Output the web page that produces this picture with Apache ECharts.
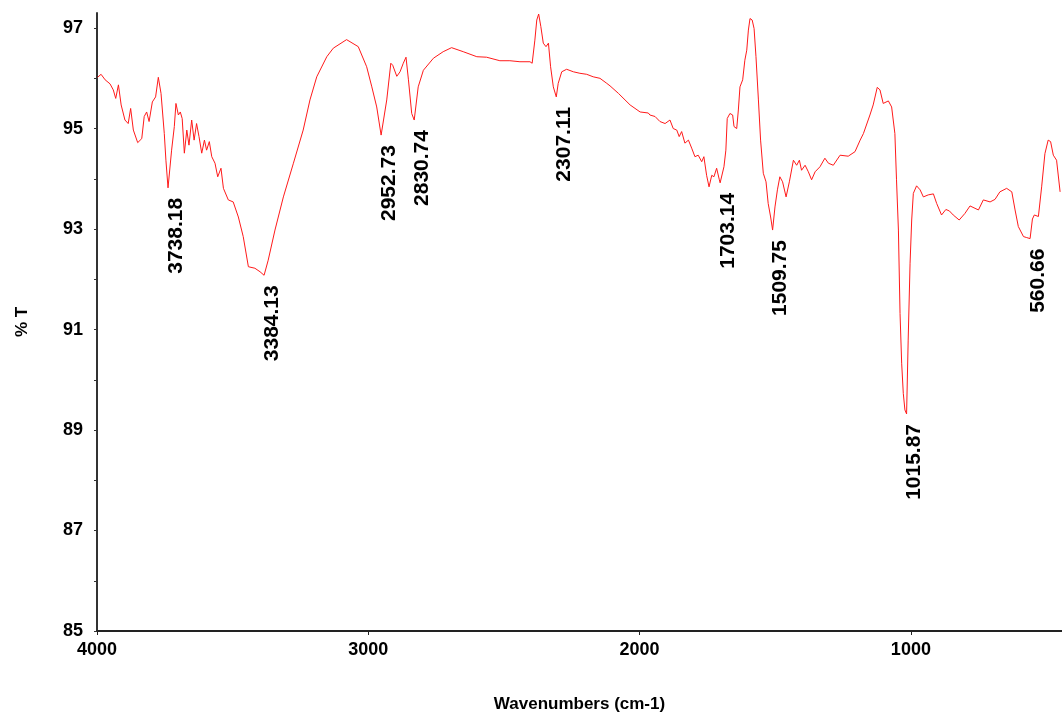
<!DOCTYPE html>
<html>
<head>
<meta charset="utf-8">
<script src="https://cdn.jsdelivr.net/npm/echarts@6/dist/echarts.min.js"></script>
<style>
  html, body { margin: 0; padding: 0; background: #fff; }
  #chart { width: 1062px; height: 715px; }
</style>
</head>
<body>
<div id="chart"></div>
<script>
// FTIR spectrum: wavenumber (cm-1) and transmittance (%T)
const wavenumbers = [
  3998, 3985, 3970, 3952, 3940, 3931, 3921, 3911, 3897, 3885, 3876, 3866, 3850, 3835, 3826, 3817,
  3808, 3796, 3784, 3774, 3764, 3752, 3746, 3738.18, 3725, 3715, 3709, 3700, 3693, 3686, 3678, 3669,
  3661, 3651, 3642, 3633, 3624, 3614, 3604, 3596, 3586, 3577, 3565, 3555, 3543, 3534, 3516, 3498,
  3479, 3461, 3442, 3418, 3399, 3384.13, 3369, 3344, 3313, 3276, 3240, 3215, 3190, 3153, 3129, 3080,
  3037, 3006, 2987, 2969, 2952.73, 2932, 2917, 2910, 2895, 2883, 2871, 2861, 2852, 2840, 2830.74, 2816,
  2797, 2760, 2724, 2693, 2650, 2600, 2564, 2515, 2478, 2441, 2404, 2396, 2386, 2379, 2372, 2364,
  2355, 2345, 2336, 2328, 2318, 2307.11, 2300, 2287, 2269, 2244, 2220, 2195, 2171, 2146, 2121, 2109,
  2078, 2035, 1998, 1968, 1962, 1943, 1925, 1906, 1888, 1876, 1863, 1854, 1845, 1833, 1820, 1808,
  1796, 1784, 1771, 1763, 1753, 1744, 1734, 1726, 1716, 1706, 1703.14, 1697, 1689, 1682, 1677, 1667,
  1657, 1652, 1642, 1636, 1630, 1620, 1612, 1605, 1599, 1593, 1585, 1578, 1571, 1562, 1554, 1544,
  1534, 1526, 1517, 1509.75, 1501, 1492, 1483, 1473, 1460, 1448, 1433, 1421, 1411, 1403, 1390, 1378,
  1366, 1353, 1335, 1317, 1304, 1286, 1261, 1231, 1206, 1187, 1175, 1151, 1139, 1124, 1114, 1102,
  1083, 1071, 1059, 1053, 1046, 1040, 1034, 1028, 1022, 1015.87, 1010, 1003, 997, 991, 979, 966,
  954, 936, 917, 905, 887, 871, 858, 844, 822, 801, 782, 751, 733, 708, 690, 672,
  647, 628, 616, 604, 585, 573, 560.66, 552, 545, 530, 518, 506, 494, 485, 475, 463,
  450
];

const transmittance = [
  96.02, 96.08, 95.97, 95.89, 95.77, 95.60, 95.87, 95.47, 95.17, 95.10, 95.40, 94.97, 94.72, 94.80, 95.24, 95.33,
  95.14, 95.53, 95.63, 96.02, 95.70, 94.90, 94.37, 93.82, 94.57, 95.04, 95.50, 95.27, 95.33, 95.20, 94.51, 94.97,
  94.67, 95.17, 94.77, 95.10, 94.84, 94.51, 94.77, 94.57, 94.74, 94.44, 94.31, 94.04, 94.21, 93.81, 93.58, 93.54,
  93.24, 92.85, 92.25, 92.22, 92.15, 92.08, 92.38, 92.98, 93.64, 94.31, 94.97, 95.57, 96.03, 96.43, 96.60, 96.77,
  96.63, 96.23, 95.83, 95.43, 94.87, 95.57, 96.30, 96.26, 96.04, 96.13, 96.30, 96.42, 95.97, 95.30, 95.17, 95.83,
  96.16, 96.40, 96.53, 96.61, 96.53, 96.43, 96.42, 96.35, 96.35, 96.33, 96.33, 96.30, 96.76, 97.16, 97.28, 97.03,
  96.70, 96.63, 96.70, 96.23, 95.83, 95.63, 95.90, 96.13, 96.18, 96.13, 96.10, 96.08, 96.03, 96.00, 95.90, 95.85,
  95.70, 95.47, 95.33, 95.31, 95.27, 95.24, 95.14, 95.10, 95.17, 95.00, 94.97, 94.84, 94.94, 94.71, 94.77, 94.61,
  94.44, 94.47, 94.34, 94.44, 94.07, 93.84, 94.07, 94.04, 94.21, 93.98, 93.92, 93.94, 94.24, 94.57, 95.20, 95.30,
  95.27, 95.04, 95.00, 95.37, 95.83, 95.97, 96.36, 96.56, 96.96, 97.19, 97.16, 96.99, 96.43, 95.57, 94.77, 94.11,
  93.94, 93.51, 93.24, 92.98, 93.44, 93.78, 94.04, 93.94, 93.64, 93.94, 94.37, 94.27, 94.37, 94.17, 94.27, 94.14,
  93.98, 94.14, 94.24, 94.41, 94.31, 94.27, 94.47, 94.45, 94.54, 94.77, 94.90, 95.27, 95.47, 95.82, 95.77, 95.50,
  95.55, 95.43, 94.90, 93.98, 92.98, 91.32, 90.33, 89.73, 89.40, 89.32, 90.79, 92.32, 93.18, 93.71, 93.86, 93.78,
  93.64, 93.68, 93.70, 93.51, 93.28, 93.39, 93.36, 93.28, 93.18, 93.31, 93.46, 93.38, 93.58, 93.54, 93.59, 93.74,
  93.81, 93.74, 93.38, 93.05, 92.85, 92.83, 92.81, 93.20, 93.28, 93.25, 93.84, 94.50, 94.77, 94.74, 94.47, 94.37,
  93.74
];

// Labelled absorption bands
const peakWavenumbers = [3738.18, 3384.13, 2952.73, 2830.74, 2307.11, 1703.14, 1509.75, 1015.87, 560.66];
const peakLabels = ['3738.18', '3384.13', '2952.73', '2830.74', '2307.11', '1703.14', '1509.75', '1015.87', '560.66'];

// Axis ticks and labels
const xTickValues = [1000, 2000, 3000, 4000];
const yTickValues = [85, 86, 87, 88, 89, 90, 91, 92, 93, 94, 95, 96, 97];
const yLabelValues = [85, 87, 89, 91, 93, 95, 97];

const spectrum = wavenumbers.map((w, i) => [w, transmittance[i]]);
const peaks = peakWavenumbers.map((w, i) => [w, transmittance[wavenumbers.indexOf(w)], peakLabels[i]]);

const FONT = "'Liberation Sans', Arial, Helvetica, sans-serif";

const chart = echarts.init(document.getElementById('chart'), null, { renderer: 'canvas' });

chart.setOption({
  animation: false,
  backgroundColor: '#ffffff',
  grid: { left: 97, right: 0, top: 13, bottom: 84, containLabel: false, outerBoundsMode: 'none' },
  xAxis: {
    type: 'value',
    inverse: true,
    min: 443,
    max: 4000,
    name: 'Wavenumbers (cm-1)',
    nameLocation: 'middle',
    nameGap: 65,
    nameTextStyle: { fontFamily: FONT, fontWeight: 'bold', fontSize: 17, color: '#000' },
    axisLine: { show: true, lineStyle: { color: '#222', width: 2 } },
    axisTick: { show: true, inside: false, length: 4, customValues: xTickValues, lineStyle: { color: '#222', width: 1 } },
    axisLabel: {
      customValues: xTickValues,
      margin: 10,
      formatter: v => String(v),
      fontFamily: FONT, fontWeight: 'bold', fontSize: 18, color: '#000'
    },
    splitLine: { show: false }
  },
  yAxis: {
    type: 'value',
    min: 85,
    max: 97.3,
    name: '% T',
    nameLocation: 'middle',
    nameRotate: 90,
    nameGap: 66,
    nameTextStyle: { fontFamily: FONT, fontWeight: 'bold', fontSize: 17, color: '#000' },
    axisLine: { show: true, lineStyle: { color: '#333', width: 2 } },
    axisTick: { show: true, inside: false, length: 3, customValues: yTickValues, lineStyle: { color: '#333', width: 1 } },
    axisLabel: { customValues: yLabelValues, margin: 14, fontFamily: FONT, fontWeight: 'bold', fontSize: 18, color: '#000' },
    splitLine: { show: false }
  },
  series: [
    {
      type: 'line',
      data: spectrum,
      showSymbol: false,
      symbol: 'none',
      lineStyle: { color: '#ff1a1a', width: 1 },
      z: 2
    },
    {
      type: 'scatter',
      data: peaks,
      symbolSize: 1,
      itemStyle: { color: 'rgba(0,0,0,0)', opacity: 1 },
      label: {
        show: true,
        position: 'inside',
        rotate: 90,
        align: 'right',
        verticalAlign: 'middle',
        offset: [-10, 8],
        formatter: p => p.value[2],
        fontFamily: FONT,
        fontWeight: 'bold',
        fontSize: 21,
        color: '#000000',
        opacity: 1,
        textBorderWidth: 0
      },
      z: 3
    }
  ]
});
</script>
</body>
</html>
